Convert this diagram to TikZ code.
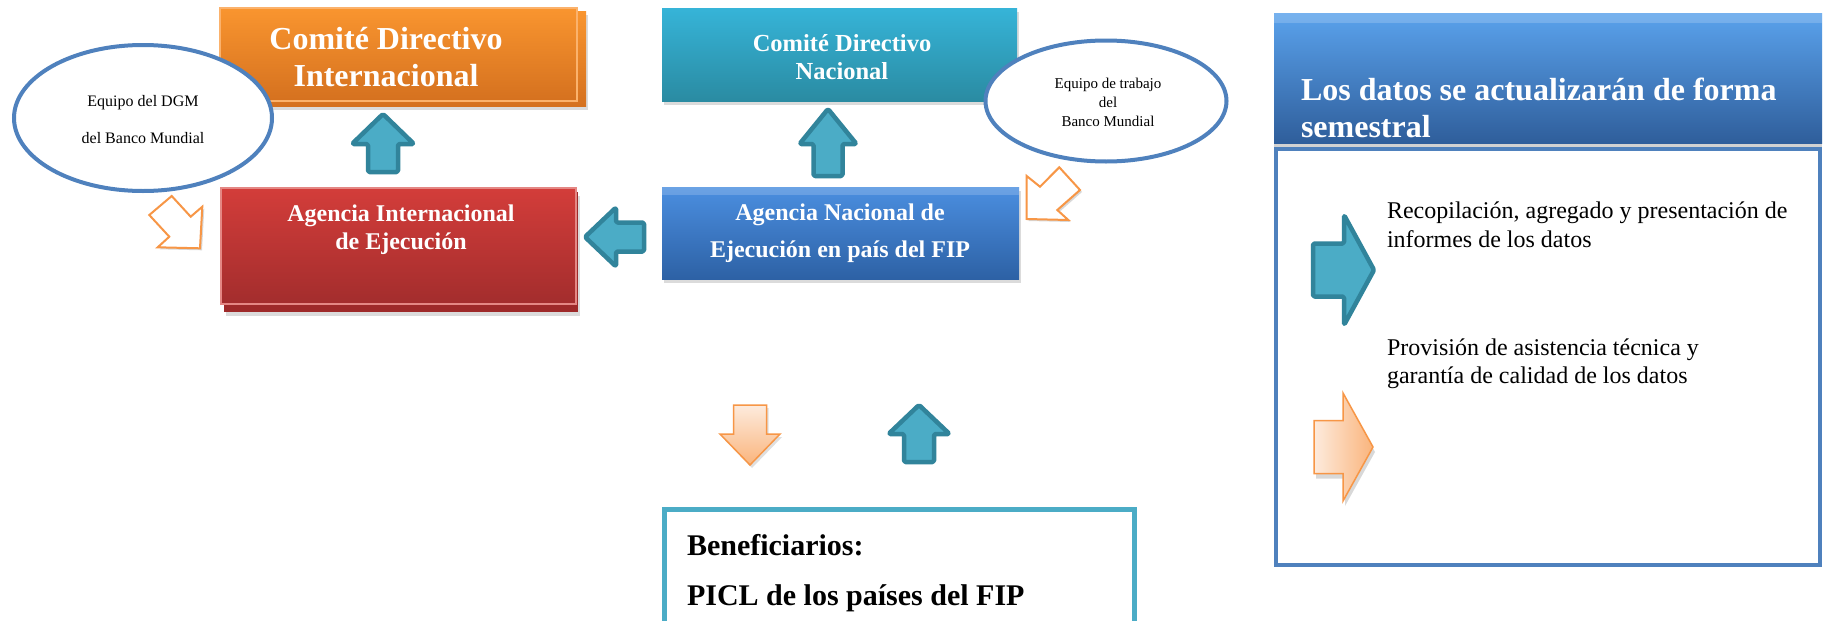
\documentclass[tikz,border=0pt]{standalone}
\usepackage{fontspec}
\setmainfont{Liberation Serif}
\usetikzlibrary{shadows,shapes.geometric}
\definecolor{arrfill}{HTML}{4BACC6}
\definecolor{arrline}{HTML}{31849B}
\definecolor{ellline}{HTML}{4F81BD}
\definecolor{orgline}{HTML}{F79646}
\definecolor{orgtop}{HTML}{F9952F}
\definecolor{orgbot}{HTML}{D5711F}
\definecolor{orgedge}{HTML}{FBB26C}
\definecolor{cyantop}{HTML}{36B4D8}
\definecolor{cyanbot}{HTML}{2A8BA2}
\definecolor{redtop}{HTML}{D33D3A}
\definecolor{redbot}{HTML}{A32D2D}
\definecolor{rededge}{HTML}{E48784}
\definecolor{redback}{HTML}{9E2929}
\definecolor{bluetop}{HTML}{4B8FE0}
\definecolor{bluebot}{HTML}{2D61A5}
\definecolor{hdtop}{HTML}{5AA2EC}
\definecolor{hdmid}{HTML}{3E7ECF}
\definecolor{hdbot}{HTML}{2F5E9B}
\definecolor{peachA}{HTML}{FDEBDD}
\definecolor{peachB}{HTML}{FAB47C}
\tikzset{pics/blockarrow/.style n args={4}{code={
  \path[pic actions] (0,0) -- (-#2,#3/2) -- (-#2,#4/2) -- (-#1,#4/2) -- (-#1,-#4/2) -- (-#2,-#4/2) -- (-#2,-#3/2) -- cycle;}}}
\begin{document}
\begin{tikzpicture}[x=1pt,y=-1pt,
  box/.style={rectangle, inner sep=0pt, outer sep=0pt},
  tc/.style={anchor=base, inner sep=0pt, outer sep=0pt},
  tl/.style={anchor=base west, inner sep=0pt, outer sep=0pt},
  wb/.style={font=\bfseries\fontsize{#1}{#1}\selectfont, text=white},
  rg/.style={font=\fontsize{#1}{#1}\selectfont, text=black},
  bb/.style={font=\bfseries\fontsize{#1}{#1}\selectfont, text=black},
  soft/.style={drop shadow={opacity=0.28, shadow xshift=2pt, shadow yshift=-4pt}},
  tealarr/.style={fill=arrfill, draw=arrline, line width=4.5pt, line join=round, rounded corners=1.5pt},
  hollow/.style={draw=orgline, fill=white, line width=2pt, line join=miter,
    drop shadow={opacity=0.3, shadow xshift=2pt, shadow yshift=-2pt}},
  bubble/.style={ellipse, draw=ellline, line width=4pt, fill=white, inner sep=0pt, outer sep=0pt},
]
\useasboundingbox[fill=white] (0,0) rectangle (1824,621);

% --- top-left orange box
\node[box, soft, minimum width=362pt, minimum height=95pt, top color=orgtop, bottom color=orgbot] (cdiback) at (405,58.5) {};
\node[box, minimum width=357pt, minimum height=93pt, top color=orgtop, bottom color=orgbot, draw=orgedge, line width=1.5pt] (cdi) at (398.5,54.5) {};
% --- top-middle cyan box
\node[box, soft, minimum width=355pt, minimum height=93pt, top color=cyantop, bottom color=cyanbot] (cdn) at (839.5,54.5) {};

% --- bubbles
\node[bubble, minimum width=258pt, minimum height=146pt] (dgm) at (143,118) {};
\node[bubble, minimum width=241pt, minimum height=121pt] (bm) at (1106,101) {};

% --- red box
\node[box, minimum width=354pt, minimum height=120pt, fill=redback, soft] (aieback) at (401,252) {};
\node[box, minimum width=355pt, minimum height=116pt, top color=redtop, bottom color=redbot, draw=rededge, line width=1.5pt] (aie) at (398.5,246) {};
% --- blue box
\node[box, soft, minimum width=357pt, minimum height=92pt, top color=bluetop, bottom color=bluebot] (ane) at (840.5,233) {};
\fill[white, opacity=0.18] (ane.north west) rectangle ([yshift=-8pt]ane.north east);

% --- block arrows
\pic[tealarr, rotate=90] at (383,114) {blockarrow={58}{30}{62}{30}};
\pic[tealarr, rotate=90] at (828,109) {blockarrow={67}{35}{57}{29}};
\pic[tealarr, rotate=180] at (585,237) {blockarrow={59}{31}{59}{29}};
\pic[tealarr, rotate=90] at (919,405) {blockarrow={57}{29}{61}{30}};

% hollow orange arrows
\draw[hollow] (171.7,196) -- (149.3,215) -- (169.3,236.7) -- (157.7,247.3) -- (200,248.3) -- (202.3,206.7) -- (190.7,216.7) -- cycle;
\draw[hollow] (1059.3,167.3) -- (1080,190) -- (1057.3,210) -- (1068.3,220) -- (1026.7,219) -- (1026.7,176) -- (1040,186.7) -- cycle;

% orange down arrow
\path[top color=peachA, bottom color=peachB, draw=orgline, line width=1.5pt, line join=miter,
  drop shadow={opacity=0.25, shadow xshift=2pt, shadow yshift=-3pt}]
  (733.5,405) -- (766.5,405) -- (766.5,434) -- (780,434) -- (750,465) -- (720,434) -- (733.5,434) -- cycle;

% --- right panel
\node[box, draw=ellline, line width=4pt, minimum width=544pt, minimum height=416pt] (body) at (1548,357) {};
\node[box, minimum width=548pt, minimum height=130pt, top color=hdtop, middle color=hdmid, bottom color=hdbot,
  drop shadow={opacity=0.35, shadow xshift=0pt, shadow yshift=-4pt}] (head) at (1548,78) {};
\fill[white, opacity=0.18] (head.north west) rectangle ([yshift=-10pt]head.north east);

\pic[tealarr] at (1374,270) {blockarrow={61}{30}{110}{53}};
\path[left color=peachA, right color=peachB, draw=orgline, line width=1.5pt, line join=miter,
  drop shadow={opacity=0.3, shadow xshift=2pt, shadow yshift=-5pt}]
  (1314,420.5) -- (1343,420.5) -- (1343,393) -- (1373,447) -- (1343,501) -- (1343,473.5) -- (1314,473.5) -- cycle;

% --- beneficiaries box
\node[box, draw=arrfill, line width=5pt, minimum width=470pt, minimum height=140pt] (ben) at (899.5,579.5) {};

% --- texts
\node[tc, wb=32] (t1) at (386,49) {Comité Directivo};
\node[tc, wb=32] (t2) at (386,86) {Internacional};
\node[tc, wb=24.5] (t3) at (842,51) {Comité Directivo};
\node[tc, wb=24.5] (t4) at (842,79) {Nacional};
\node[tc, wb=24] (t5) at (401,221) {Agencia Internacional};
\node[tc, wb=24] (t6) at (401,249) {de Ejecución};
\node[tc, wb=24] (t7) at (840,220) {Agencia Nacional de};
\node[tc, wb=24] (t8) at (840,257) {Ejecución en país del FIP};
\node[tc, rg=16] (t9) at (143,106) {Equipo del DGM};
\node[tc, rg=16] (t10) at (143,143) {del Banco Mundial};
\node[tc, rg=15] (t11) at (1108,88) {Equipo de trabajo};
\node[tc, rg=15] (t12) at (1108,107) {del};
\node[tc, rg=15] (t13) at (1108,126) {Banco Mundial};
\node[tl, wb=32] (t14) at (1301,100) {Los datos se actualizarán de forma};
\node[tl, wb=32] (t15) at (1301,137) {semestral};
\node[tl, rg=24] (t16) at (1387,218) {Recopilación, agregado y presentación de};
\node[tl, rg=24] (t17) at (1387,247) {informes de los datos};
\node[tl, rg=24] (t18) at (1387,355) {Provisión de asistencia técnica y};
\node[tl, rg=24] (t19) at (1387,383) {garantía de calidad de los datos};
\node[tl, bb=30] (t20) at (687,555) {Beneficiarios:};
\node[tl, bb=30] (t21) at (687,605) {PICL de los países del FIP};
\end{tikzpicture}
\end{document}
